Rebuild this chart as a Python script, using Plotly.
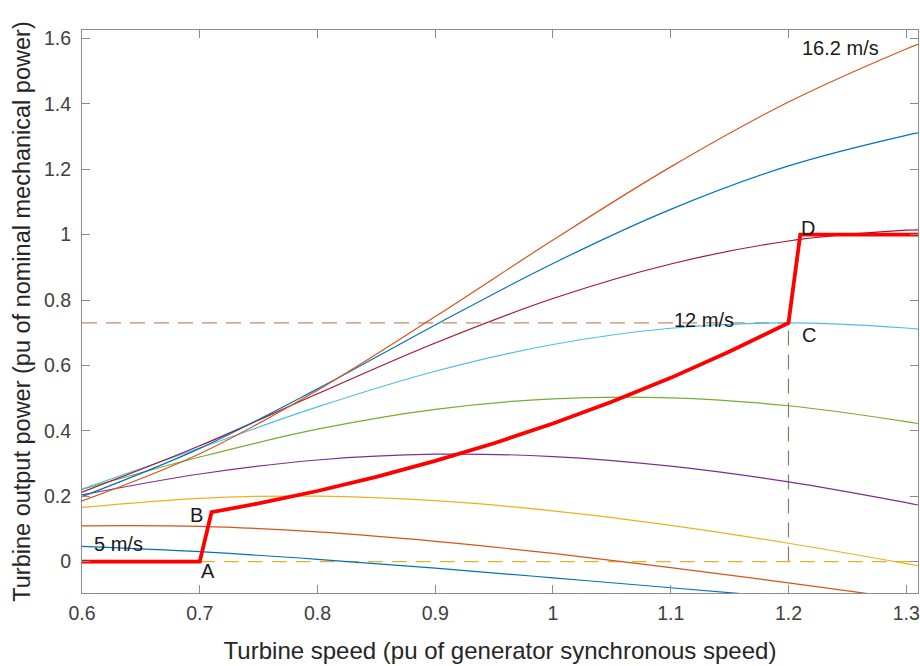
import plotly.graph_objects as go

# ---------------- data ----------------
speed = [0.6, 0.7, 0.8, 0.9, 1.0, 1.1, 1.2, 1.3, 1.31]

p_5_0 = [0.0466, 0.0303, 0.0071, -0.0201, -0.0496, -0.0799, -0.1102]
p_6_4 = [0.1094, 0.1078, 0.0909, 0.0622, 0.0249, -0.0182, -0.0651, -0.1137]
p_7_8 = [0.1658, 0.1937, 0.2001, 0.1863, 0.1554, 0.1110, 0.0562, -0.0061, -0.0127]
p_9_2 = [0.2038, 0.2680, 0.3108, 0.3285, 0.3214, 0.2920, 0.2438, 0.1803, 0.1732]
p_10_6 = [0.2211, 0.3199, 0.4050, 0.4659, 0.4980, 0.5009, 0.4767, 0.4284, 0.4224]
p_12_0 = [0.2219, 0.3475, 0.4732, 0.5823, 0.6641, 0.7137, 0.7300, 0.7145, 0.7112]
p_13_4 = [0.2125, 0.3542, 0.5134, 0.6688, 0.8047, 0.9104, 0.9807, 1.0136, 1.0149]
p_14_8 = [0.1988, 0.3464, 0.5283, 0.7238, 0.9119, 1.0774, 1.2102, 1.3039, 1.3111]
p_16_2 = [0.1856, 0.3301, 0.5244, 0.7495, 0.9836, 1.2074, 1.4057, 1.5681, 1.5822]

curves = [p_5_0, p_6_4, p_7_8, p_9_2, p_10_6, p_12_0, p_13_4, p_14_8, p_16_2]
curve_names = ["5 m/s", "6.4 m/s", "7.8 m/s", "9.2 m/s", "10.6 m/s",
               "12 m/s", "13.4 m/s", "14.8 m/s", "16.2 m/s"]
curve_colors = ["#0072BD", "#D95319", "#EDB120", "#7E2F8E", "#77AC30",
                "#4DBEEE", "#A2142F", "#0072BD", "#D95319"]

# tracking characteristic (thick red line) A-B-C-D
track_x = [0.6, 0.70, 0.71, 0.75, 0.80, 0.85, 0.90, 0.95, 1.00, 1.05, 1.10,
           1.15, 1.20, 1.21, 1.31]
track_y = [0.0, 0.0, 0.151, 0.178, 0.216, 0.259, 0.308, 0.362, 0.4225, 0.489,
           0.562, 0.6425, 0.73, 1.0, 1.0]

# reference dashed lines
base_power = 0.73
base_speed = 1.2

# text labels
label_text = ["16.2 m/s", "12 m/s", "5 m/s", "A", "B", "C", "D"]
label_x = [1.244, 1.128, 0.631, 0.7067, 0.697, 1.217, 1.2165]
label_y = [1.571, 0.739, 0.054, -0.030, 0.144, 0.692, 1.020]

x_ticks = [0.6, 0.7, 0.8, 0.9, 1.0, 1.1, 1.2, 1.3]
x_tick_text = ["0.6", "0.7", "0.8", "0.9", "1", "1.1", "1.2", "1.3"]
y_ticks = [0, 0.2, 0.4, 0.6, 0.8, 1.0, 1.2, 1.4, 1.6]
y_tick_text = ["0", "0.2", "0.4", "0.6", "0.8", "1", "1.2", "1.4", "1.6"]

# ---------------- figure ----------------
fig = go.Figure()

dash = "15px,9px"
fig.add_trace(go.Scatter(x=[0.6, base_speed], y=[base_power, base_power], mode="lines",
                         line=dict(color="#C98A62", width=1.2, dash=dash), hoverinfo="skip"))
fig.add_trace(go.Scatter(x=[base_speed, base_speed], y=[0, base_power], mode="lines",
                         line=dict(color="#8C7B70", width=1.2, dash=dash), hoverinfo="skip"))
fig.add_trace(go.Scatter(x=[0.7, 1.31], y=[0, 0], mode="lines",
                         line=dict(color="#EDB120", width=1.2, dash=dash), hoverinfo="skip"))

for ys, name, col in zip(curves, curve_names, curve_colors):
    fig.add_trace(go.Scatter(x=speed[:len(ys)], y=ys, mode="lines", name=name,
                             line=dict(color=col, width=1.2, shape="spline", smoothing=1.0)))

fig.add_trace(go.Scatter(x=track_x, y=track_y, mode="lines", name="tracking",
                         line=dict(color="#FF0000", width=3.8)))

for t, lx, ly in zip(label_text, label_x, label_y):
    fig.add_annotation(x=lx, y=ly, text=t, showarrow=False,
                       font=dict(size=20, color="#1a1a1a"),
                       xanchor="center", yanchor="middle")

axis_col = "#8c8c8c"
fig.update_xaxes(range=[0.6, 1.31], showgrid=False, zeroline=False, automargin=False,
                 showline=True, linecolor=axis_col, linewidth=1, mirror="ticks",
                 ticks="inside", ticklen=8, tickcolor=axis_col, tickwidth=1,
                 tickvals=x_ticks, ticktext=x_tick_text,
                 tickfont=dict(size=19.5, color="#404040"), ticklabelstandoff=3,
                 title=dict(text="Turbine speed (pu of generator synchronous speed)",
                            font=dict(size=24, color="#262626"), standoff=18))
fig.update_yaxes(range=[-0.096, 1.626], showgrid=False, zeroline=False, automargin=False,
                 showline=True, linecolor=axis_col, linewidth=1, mirror="ticks",
                 ticks="inside", ticklen=8, tickcolor=axis_col, tickwidth=1,
                 tickvals=y_ticks, ticktext=y_tick_text,
                 tickfont=dict(size=19.5, color="#404040"), ticklabelstandoff=6,
                 title=dict(text="Turbine output power (pu of nominal mechanical power)",
                            font=dict(size=23.5, color="#262626"), standoff=6))

fig.update_layout(width=920, height=666, margin=dict(l=82, r=2, t=30, b=73),
                  plot_bgcolor="white", paper_bgcolor="white", showlegend=False,
                  font=dict(family="Liberation Sans, Arial, sans-serif"))

fig.write_html("out.html", config={"displayModeBar": False},
               post_script="document.body.style.margin='0';document.body.style.overflow='hidden';")
